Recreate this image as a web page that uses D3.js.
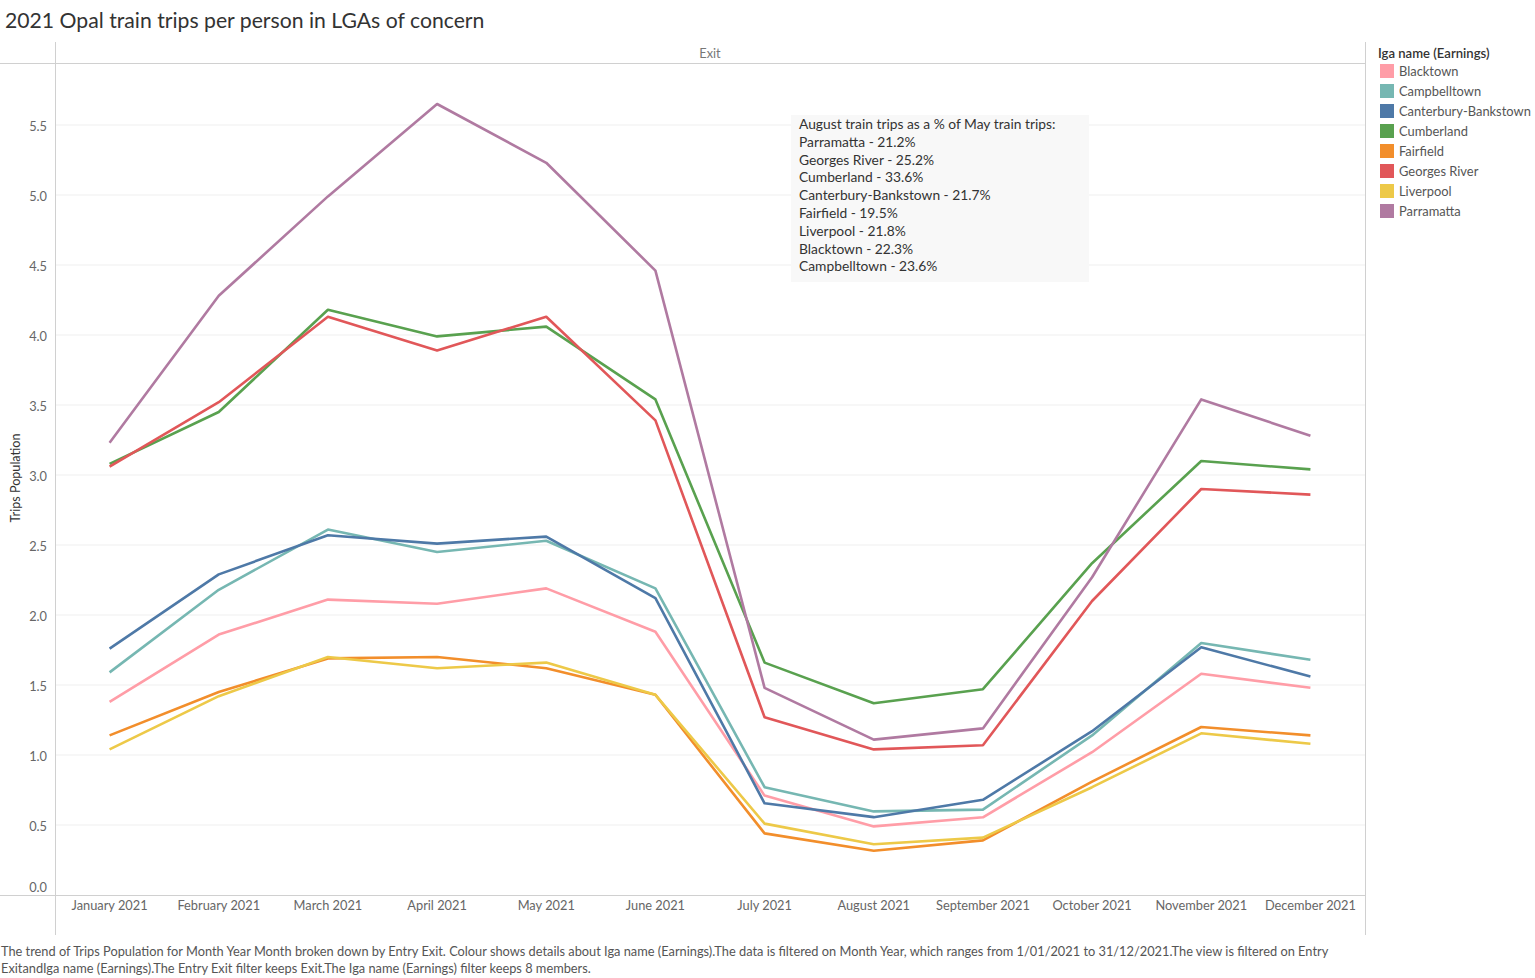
<!DOCTYPE html>
<html>
<head>
<meta charset="utf-8">
<script src="https://cdn.jsdelivr.net/npm/d3@7"></script>
<style>
  html, body { margin: 0; padding: 0; background: #fff; }
  svg { display: block; font-family: "Lato", "Noto Sans", sans-serif; }
</style>
</head>
<body>
<svg id="chart" width="1535" height="978"></svg>
<script>
const months = ["January 2021","February 2021","March 2021","April 2021","May 2021","June 2021","July 2021","August 2021","September 2021","October 2021","November 2021","December 2021"];
const seriesNames = ["Blacktown","Campbelltown","Canterbury-Bankstown","Cumberland","Fairfield","Georges River","Liverpool","Parramatta"];
const seriesColors = ["#FF9DA7","#76B7B2","#4E79A7","#59A14F","#F28E2B","#E15759","#EDC948","#B07AA1"];
const blacktown   = [1.38,1.86,2.11,2.08,2.19,1.88,0.71,0.49,0.555,1.02,1.58,1.48];
const campbelltown= [1.59,2.18,2.61,2.45,2.53,2.19,0.77,0.597,0.61,1.14,1.80,1.68];
const canterbury  = [1.76,2.29,2.57,2.51,2.56,2.12,0.655,0.556,0.68,1.17,1.77,1.56];
const cumberland  = [3.08,3.45,4.18,3.99,4.06,3.54,1.66,1.37,1.47,2.37,3.10,3.04];
const fairfield   = [1.14,1.45,1.69,1.70,1.62,1.43,0.44,0.316,0.39,0.81,1.20,1.14];
const georgesRiver= [3.06,3.52,4.13,3.89,4.13,3.39,1.27,1.04,1.07,2.10,2.90,2.86];
const liverpool   = [1.04,1.42,1.70,1.62,1.66,1.43,0.51,0.362,0.41,0.77,1.155,1.08];
const parramatta  = [3.23,4.28,4.99,5.65,5.23,4.46,1.48,1.11,1.19,2.27,3.54,3.28];
const seriesValues = [blacktown,campbelltown,canterbury,cumberland,fairfield,georgesRiver,liverpool,parramatta];
const yTicks = [0,0.5,1,1.5,2,2.5,3,3.5,4,4.5,5,5.5];
const annotationLines = ["August train trips as a % of May train trips:","Parramatta - 21.2%","Georges River - 25.2%","Cumberland - 33.6%","Canterbury-Bankstown - 21.7%","Fairfield - 19.5%","Liverpool - 21.8%","Blacktown - 22.3%","Campbelltown - 23.6%"];
const titleText = "2021 Opal train trips per person in LGAs of concern";
const footerLines = ["The trend of Trips Population for Month Year Month broken down by Entry Exit. Colour shows details about Iga name (Earnings).The data is filtered on Month Year, which ranges from 1/01/2021 to 31/12/2021.The view is filtered on Entry","ExitandIga name (Earnings).The Entry Exit filter keeps Exit.The Iga name (Earnings) filter keeps 8 members."];

const svg = d3.select("#chart");
const L = 55, R = 1365, T = 63, B = 895;

const x = d3.scaleBand().domain(months).range([L, R]);
const y = d3.scaleLinear().domain([0, 5.5]).range([B, B - 5.5 * 140]);

// title
svg.append("text").attr("x", 5).attr("y", 28).attr("font-size", 21.2).attr("fill", "#333").text(titleText);

// gridlines
svg.append("g").selectAll("line").data(yTicks.filter(d => d > 0)).join("line")
  .attr("x1", L).attr("x2", R).attr("y1", d => y(d)).attr("y2", d => y(d))
  .attr("stroke", "#efefef").attr("stroke-width", 1);

// frame lines
const frame = svg.append("g").attr("stroke", "#d0d0d0").attr("stroke-width", 1);
frame.append("line").attr("x1", 0).attr("x2", R).attr("y1", T + 0.5).attr("y2", T + 0.5);
frame.append("line").attr("x1", 0).attr("x2", R).attr("y1", B + 0.5).attr("y2", B + 0.5);
frame.append("line").attr("x1", L + 0.5).attr("x2", L + 0.5).attr("y1", 42).attr("y2", 935);
frame.append("line").attr("x1", R + 0.5).attr("x2", R + 0.5).attr("y1", 42).attr("y2", 935);

// header
svg.append("text").attr("x", (L + R) / 2).attr("y", 58).attr("text-anchor", "middle")
  .attr("font-size", 12.8).attr("fill", "#777").text("Exit");

// y axis
const yAxis = d3.axisLeft(y).tickValues(yTicks).tickFormat(d3.format(".1f")).tickSize(0).tickPadding(8);
const gy = svg.append("g").attr("transform", `translate(${L},0)`).call(yAxis);
gy.select(".domain").remove();
gy.selectAll("text").attr("font-size", 12.8).attr("fill", "#666").attr("font-family", "Lato, 'Noto Sans', sans-serif").attr("dy", "0.42em");
gy.selectAll(".tick").filter(d => d === 0).select("text").attr("dy", "-0.3em");

svg.append("text").attr("transform", `translate(20,${478}) rotate(-90)`).attr("text-anchor", "middle")
  .attr("font-size", 12.6).attr("fill", "#333").text("Trips Population");

// x axis
const xAxis = d3.axisBottom(x).tickSize(0).tickPadding(6);
const gx = svg.append("g").attr("transform", `translate(0,${B})`).call(xAxis);
gx.select(".domain").remove();
gx.selectAll("text").attr("font-size", 12.8).attr("fill", "#666").attr("font-family", "Lato, 'Noto Sans', sans-serif");

// annotation box
const ann = svg.append("g");
ann.append("rect").attr("x", 791).attr("y", 115).attr("width", 298).attr("height", 167).attr("fill", "#f8f8f8");
ann.selectAll("text").data(annotationLines).join("text")
  .attr("x", 799).attr("y", (d, i) => 129 + i * 17.8)
  .attr("font-size", 13.8).attr("fill", "#333").text(d => d);

// lines
const line = d3.line().x((d, i) => x(months[i]) + x.bandwidth() / 2).y(d => y(d));
svg.append("g").selectAll("path").data(seriesValues).join("path")
  .attr("d", d => line(d)).attr("fill", "none")
  .attr("stroke", (d, i) => seriesColors[i]).attr("stroke-width", 2.6)
  .attr("stroke-linejoin", "round");

// legend
const lg = svg.append("g");
lg.append("text").attr("x", 1378).attr("y", 58).attr("font-size", 13.1).attr("fill", "#333").attr("font-weight", 600).text("Iga name (Earnings)");
const items = lg.selectAll("g.item").data(seriesNames).join("g").attr("class", "item")
  .attr("transform", (d, i) => `translate(1380,${64 + i * 20})`);
items.append("rect").attr("width", 14).attr("height", 14).attr("fill", (d, i) => seriesColors[i]);
items.append("text").attr("x", 19).attr("y", 11.5).attr("font-size", 12.9).attr("fill", "#555").text(d => d);

// footer
svg.append("g").selectAll("text").data(footerLines).join("text")
  .attr("x", 1).attr("y", (d, i) => 956 + i * 17).attr("font-size", 12.8).attr("fill", "#555").text(d => d);
</script>
</body>
</html>
